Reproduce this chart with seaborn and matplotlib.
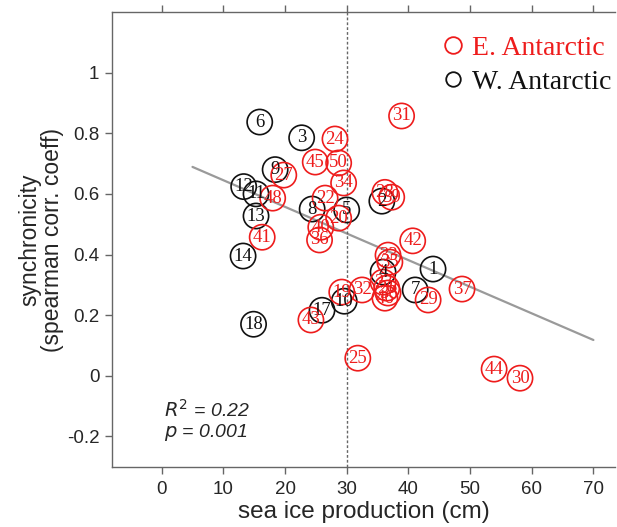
import matplotlib
matplotlib.use("Agg")
import matplotlib.pyplot as plt
from matplotlib.lines import Line2D
import seaborn as sns
import pandas as pd

# ---- data ----
east_ids = [31, 24, 45, 50, 34, 27, 48, 22, 20, 40, 36, 41, 28, 39, 42, 33, 35,
            37, 29, 32, 19, 43, 23, 26, 38, 46, 25, 44, 30]
east_x = [38.9, 28.1, 24.9, 28.7, 29.5, 19.8, 18.0, 26.5, 28.7, 25.8, 25.6, 16.3,
          36.2, 37.3, 40.7, 36.7, 37.0, 48.7, 43.2, 32.5, 29.2, 24.2,
          35.9, 36.5, 36.7, 36.2, 31.8, 53.9, 58.1]
east_y = [0.857, 0.781, 0.705, 0.702, 0.636, 0.662, 0.586, 0.586, 0.52, 0.49, 0.448, 0.457,
          0.605, 0.589, 0.445, 0.398, 0.375, 0.286, 0.25, 0.283, 0.276, 0.184,
          0.309, 0.289, 0.273, 0.256, 0.058, 0.022, -0.008]

west_ids = [6, 3, 9, 12, 11, 13, 14, 18, 8, 5, 2, 4, 1, 7, 17, 10]
west_x = [15.9, 22.7, 18.4, 13.3, 15.3, 15.3, 13.2, 14.9, 24.4, 30.0, 35.7, 35.9, 44.0, 41.1, 26.0, 29.6]
west_y = [0.837, 0.785, 0.68, 0.624, 0.60, 0.527, 0.395, 0.17, 0.55, 0.547, 0.576, 0.342,
          0.352, 0.283, 0.216, 0.246]

fit_x = [5.0, 70.0]
fit_y = [0.689, 0.118]

threshold_x = 30
x_ticks = [0, 10, 20, 30, 40, 50, 60, 70]
y_ticks = [-0.2, 0, 0.2, 0.4, 0.6, 0.8, 1]
y_ticklabels = ["-0.2", "0", "0.2", "0.4", "0.6", "0.8", "1"]

RED = "#ee1c1c"
BLACK = "#111111"

sns.set_style("ticks")
plt.rcParams["font.family"] = ["Liberation Sans", "DejaVu Sans"]

fig = plt.figure(figsize=(6.17, 5.27), dpi=100)
ax = fig.add_axes([112 / 617, 1 - 467 / 527, (615 - 112) / 617, (467 - 12) / 527])

east = pd.DataFrame({"x": east_x, "y": east_y, "id": east_ids})
west = pd.DataFrame({"x": west_x, "y": west_y, "id": west_ids})

# regression line & threshold
sns.lineplot(x=fit_x, y=fit_y, ax=ax, color="#9a9a9a", linewidth=1.6, zorder=1)
ax.axvline(threshold_x, color="#666666", linestyle=(0, (2, 1.5)), linewidth=1.0, zorder=1)

for df, col in [(west, BLACK), (east, RED)]:
    sns.scatterplot(data=df, x="x", y="y", ax=ax, s=330, marker="o",
                    facecolor="none", edgecolor=col, linewidth=1.2, zorder=3)
    for _, r in df.iterrows():
        ax.text(r["x"], r["y"], str(int(r["id"])), ha="center", va="center",
                fontsize=13.5, color=col, family="Liberation Serif", zorder=4)

ax.set_xlim(-8.05, 73.5)
ax.set_ylim(-0.301, 1.2)
ax.set_xticks(x_ticks)
ax.set_yticks(y_ticks)
ax.set_yticklabels(y_ticklabels)
ax.tick_params(axis="x", top=True, labeltop=False, direction="out", length=5,
               width=1, color="#666666", labelsize=13.5, pad=5)
ax.tick_params(axis="y", direction="out", length=5, width=1, color="#666666",
               labelsize=13.5, pad=4)
for side in ["left", "top", "bottom"]:
    ax.spines[side].set_color("#666666")
    ax.spines[side].set_linewidth(1.0)
ax.spines["right"].set_visible(False)

ax.set_xlabel("sea ice production (cm)", fontsize=17.5, labelpad=2)
ax.set_ylabel("synchronicity\n(spearman corr. coeff)", fontsize=16.5, labelpad=2, linespacing=1.0)

ax.text(0.3, -0.113, r"$R^2$ = 0.22", fontsize=14, style="italic", va="center", ha="left")
ax.text(0.3, -0.186, r"$p$ = 0.001", fontsize=14, style="italic", va="center", ha="left")

handles = [Line2D([], [], linestyle="none", marker="o", markersize=12, markerfacecolor="none",
                  markeredgecolor=RED, markeredgewidth=1.3),
           Line2D([], [], linestyle="none", marker="o", markersize=10.5, markerfacecolor="none",
                  markeredgecolor=BLACK, markeredgewidth=1.3)]
leg = ax.legend(handles, ["E. Antarctic", "W. Antarctic"], loc="upper right",
                bbox_to_anchor=(1.025, 0.985), frameon=False, handlelength=0.8,
                handletextpad=0.25, labelspacing=0.3, borderaxespad=0.2,
                prop={"family": "Liberation Serif", "size": 20})
for t, c in zip(leg.get_texts(), [RED, BLACK]):
    t.set_color(c)

fig.savefig("out.png", dpi=100)
